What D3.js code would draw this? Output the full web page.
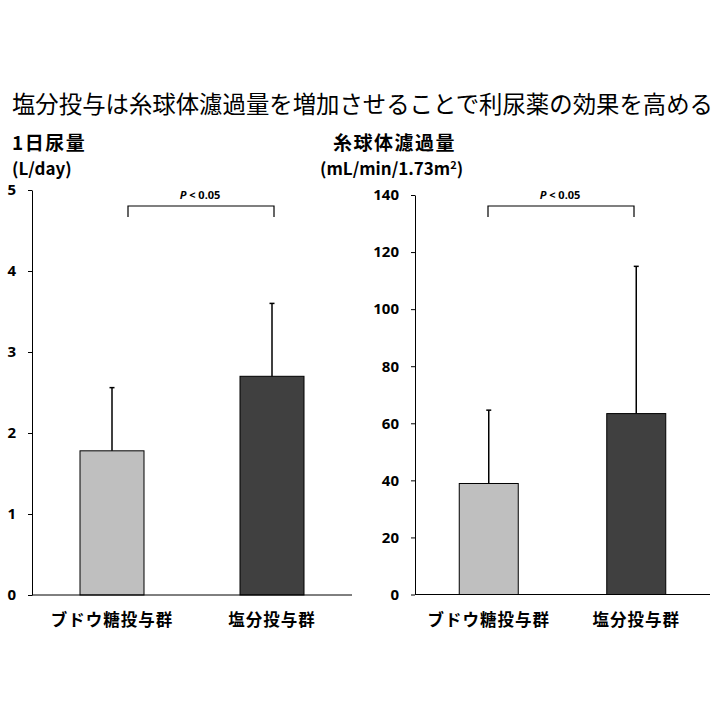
<!DOCTYPE html>
<html>
<head>
<meta charset="utf-8">
<script src="https://cdn.jsdelivr.net/npm/d3@7"></script>
<style>
  body { margin: 0; background: #fff; }
  svg { display: block; font-family: "Noto Sans CJK JP", "Noto Sans", sans-serif; }
</style>
</head>
<body>
<svg id="chart"></svg>
<script>
var width = 720, height = 720;

// data
var groups = ["ブドウ糖投与群", "塩分投与群"];
var urineMean = [1.78, 2.70];
var urineSd = [0.78, 0.90];
var urineTicks = [0, 1, 2, 3, 4, 5];
var gfrMean = [38.9, 63.4];
var gfrSd = [25.7, 51.6];
var gfrTicks = [0, 20, 40, 60, 80, 100, 120, 140];
var barColors = ["#bfbfbf", "#404040"];

var svg = d3.select("#chart")
    .attr("width", width)
    .attr("height", height);

svg.append("text")
    .attr("x", 362.5)
    .attr("y", 113)
    .attr("text-anchor", "middle")
    .style("font-size", "23.4px")
    .text("塩分投与は糸球体濾過量を増加させることで利尿薬の効果を高める");

// one panel per measure
var panels = [
    {mean: urineMean, sd: urineSd, ticks: urineTicks, max: 5,
     x0: 32, x1: 352, y0: 595, y1: 190, barW: 64,
     label: ["1日尿量", "(L/day)"], labelX: [12, 12],
     bracket: [128, 274]},
    {mean: gfrMean, sd: gfrSd, ticks: gfrTicks, max: 140,
     x0: 415, x1: 710, y0: 594.5, y1: 195, barW: 59,
     label: ["糸球体濾過量", "(mL/min/1.73m²)"], labelX: [333, 320],
     bracket: [488, 634]}
];

function drawPanel(p) {
    var g = svg.append("g");
    var x = d3.scalePoint().domain(groups).range([p.x0, p.x1]).padding(0.5);
    var y = d3.scaleLinear().domain([0, p.max]).range([p.y0, p.y1]);

    // axis titles
    g.append("text")
        .attr("x", p.labelX[0]).attr("y", 150)
        .style("font-size", "19px").style("font-weight", "bold")
        .style("letter-spacing", "1.5px")
        .text(p.label[0]);
    var sub = g.append("text")
        .attr("x", p.labelX[1]).attr("y", 175)
        .style("font-size", "17px").style("font-weight", "bold");
    if (p.label[1].indexOf("²") >= 0) {
        sub.append("tspan").text("(mL/min/1.73m");
        sub.append("tspan").attr("dy", -6).style("font-size", "11px").text("2");
        sub.append("tspan").attr("dy", 6).text(")");
    } else {
        sub.text(p.label[1]);
    }

    // y axis
    var yAxis = g.append("g")
        .attr("transform", "translate(" + p.x0 + ",0)")
        .call(d3.axisLeft(y).tickValues(p.ticks).tickFormat(d3.format("d"))
            .tickSize(4).tickSizeOuter(0).tickPadding(12));
    yAxis.select(".domain").attr("stroke", "#000").attr("stroke-width", 1);
    yAxis.selectAll(".tick line").attr("stroke", "#000");
    yAxis.selectAll(".tick text")
        .style("font-family", "'Noto Sans', sans-serif")
        .style("font-size", "15px").style("font-weight", "bold").attr("fill", "#000");

    // bars
    g.selectAll("rect.bar")
        .data(p.mean)
        .join("rect")
        .attr("class", "bar")
        .attr("x", function(d, i) { return x(groups[i]) - p.barW / 2; })
        .attr("y", function(d) { return y(d); })
        .attr("width", p.barW)
        .attr("height", function(d) { return y(0) - y(d); })
        .attr("fill", function(d, i) { return barColors[i]; })
        .attr("stroke", "#000")
        .attr("stroke-width", 1);

    // upper error bars
    p.mean.forEach(function(m, i) {
        var cx = x(groups[i]);
        g.append("line")
            .attr("x1", cx).attr("x2", cx)
            .attr("y1", y(m)).attr("y2", y(m + p.sd[i]))
            .attr("stroke", "#000").attr("stroke-width", 1.5);
        g.append("line")
            .attr("x1", cx - 2.5).attr("x2", cx + 2.5)
            .attr("y1", y(m + p.sd[i])).attr("y2", y(m + p.sd[i]))
            .attr("stroke", "#000").attr("stroke-width", 1.5);
    });

    // baseline
    g.append("line")
        .attr("x1", p.x0).attr("x2", p.x1)
        .attr("y1", y(0)).attr("y2", y(0))
        .attr("stroke", "#000").attr("stroke-width", 1);

    // category labels
    g.selectAll("text.cat")
        .data(groups)
        .join("text")
        .attr("class", "cat")
        .attr("x", function(d) { return x(d); })
        .attr("y", 626)
        .attr("text-anchor", "middle")
        .style("font-size", "16.5px").style("font-weight", "bold")
        .style("letter-spacing", "1px")
        .text(function(d) { return d; });

    // significance bracket
    g.append("path")
        .attr("d", "M" + p.bracket[0] + ",217V206H" + p.bracket[1] + "V217")
        .attr("fill", "none").attr("stroke", "#000").attr("stroke-width", 1.2);
    var sig = g.append("text")
        .attr("x", (p.bracket[0] + p.bracket[1]) / 2 - 1)
        .attr("y", 199)
        .attr("text-anchor", "middle")
        .style("font-family", "'Noto Sans', sans-serif")
        .style("font-size", "11px").style("font-weight", "bold");
    sig.append("tspan").style("font-style", "italic").text("P");
    sig.append("tspan").text(" < 0.05");
}

panels.forEach(drawPanel);
</script>
</body>
</html>
